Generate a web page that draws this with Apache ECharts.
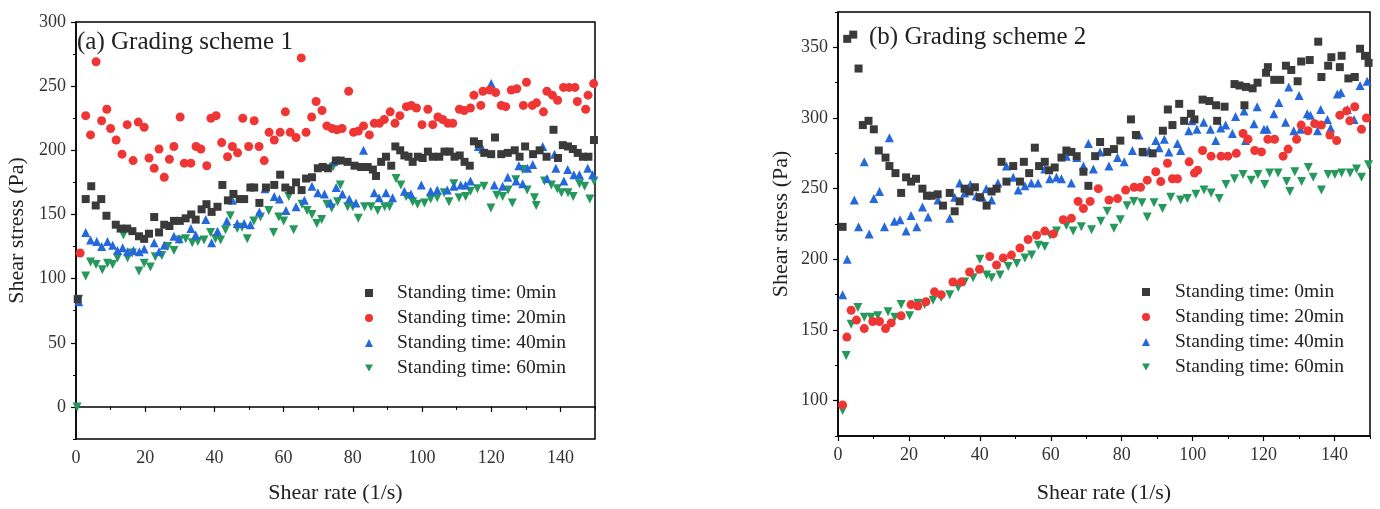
<!DOCTYPE html>
<html>
<head>
<meta charset="utf-8">
<script src="https://cdn.jsdelivr.net/npm/echarts@6/dist/echarts.min.js"></script>
<style>html,body{margin:0;padding:0;background:#fff;}#c{width:1380px;height:509px;}</style>
</head>
<body>
<div id="c"></div>
<script>
// ---- Data (shear rate [1/s], shear stress [Pa]) ----
const seriesNames = ['Standing time: 0min','Standing time: 20min','Standing time: 40min','Standing time: 60min'];
const panelTitles = ['(a) Grading scheme 1','(b) Grading scheme 2'];
const xMajorTicks = [0,20,40,60,80,100,120,140];
const xMinorTicks = [10,30,50,70,90,110,130,150];
const yMajorTicksA = [0,50,100,150,200,250,300];
const yMinorTicksA = [-25,25,75,125,175,225,275];
const yMajorTicksB = [100,150,200,250,300,350];
const yMinorTicksB = [75,125,175,225,275,325,375];

// Panel (a)
const a0min = [[0.5,84],[2.8,162],[4.4,172],[5.7,157],[7.3,162],[8.8,149],[11.5,142],[12.9,139],[14.8,139],[16.3,137],[18.2,133],[19.7,131],[21.1,135],[22.6,148],[24,136],[25.5,142],[27,141],[28.3,145],[30,145],[31.7,147],[33.3,150],[34.6,146],[36.3,154],[37.7,158],[39.2,152],[40.9,156],[42.3,173],[43.9,161],[45.5,166],[47.3,162],[48.6,162],[50.4,171],[51.5,171],[53,159],[54.9,171],[57.3,173],[59,181],[60.5,171],[62.1,169],[63.6,175],[65.2,169],[66.5,178],[68.2,179],[69.9,186],[71.3,187],[72.8,186],[75.1,192],[76.5,192],[78.5,191],[80.5,188],[82.4,187],[84.3,187],[85.8,185],[86.7,180],[88.2,191],[89.6,195],[91.1,188],[92.3,203],[93.7,200],[94.9,196],[96.1,195],[97.3,191],[98.8,195],[100.2,194],[101.7,199],[103.1,195],[105,195],[106.5,199],[108,199],[109.4,195],[110.9,196],[112.3,191],[113.8,188],[115,207],[116.4,205],[118,198],[120,197],[121.1,210],[122.9,197],[124.8,198],[126.8,200],[128.2,195],[129.8,203],[132.1,197],[134,200],[136,195],[138,216],[139.3,194],[140.7,204],[142.2,203],[143.6,201],[145,198],[146.5,195],[148.1,195],[149.7,208]];
const a20min = [[1.2,120],[2.8,227],[4.2,212],[5.8,269],[7.4,223],[8.9,232],[10,217],[11.6,208],[13.3,197],[14.8,220],[16.5,192],[18,222],[19.7,218],[21.1,194],[22.6,186],[24,201],[25.5,179],[27,193],[28.3,203],[30.1,226],[31.3,190],[33.2,190],[34.7,203],[36.1,201],[37.8,188],[39,225],[40.5,227],[42.1,206],[43.8,195],[45.2,203],[46.7,198],[48.2,225],[49.9,203],[51.5,223],[52.9,203],[54.4,192],[55.8,214],[57.3,208],[59,214],[60.5,230],[61.9,214],[63.6,210],[65.1,272],[66.5,214],[68.1,226],[69.4,238],[71.1,231],[72.5,219],[74,217],[75.4,216],[76.9,217],[78.8,246],[80.2,214],[81.6,215],[83.1,219],[84.8,212],[86.2,221],[87.7,221],[89.1,224],[90.8,230],[92.2,221],[93.6,227],[95.5,234],[96.9,235],[98.4,233],[100,220],[101.7,232],[103.1,220],[104.6,226],[106,224],[107.5,221],[108.9,221],[110.8,232],[112.2,231],[114,233],[115,243],[117,235],[117.6,246],[119.6,247],[121.3,245],[122.9,235],[124.2,234],[125.8,247],[127.4,248],[129.3,235],[130.2,253],[131.9,235],[133.1,237],[135.1,230],[136.1,246],[137.7,243],[139.2,239],[140.9,249],[142.5,249],[144.2,249],[144.9,238],[147.3,232],[148,243],[149.6,252]];
const a40min = [[0.8,82],[2.8,136],[4.2,130],[6,129],[7.4,125],[9.1,129],[10.6,126],[12,122],[13.5,124],[14.9,121],[16.6,122],[18.3,121],[19.7,123],[22.6,128],[24,121],[25.5,126],[28.3,133],[29.8,131],[33.2,139],[34.6,134],[37.5,146],[39.2,128],[40.9,137],[43.6,145],[45.2,161],[46.6,143],[48.6,143],[50.4,142],[53,152],[54.6,170],[57.3,164],[58.8,162],[60.7,153],[63.6,156],[66,161],[68.2,172],[69.9,167],[71.8,166],[73.6,159],[74.5,191],[75.2,171],[77,166],[79,162],[80.9,159],[83.1,200],[86.2,167],[87.6,163],[89.6,167],[91.5,163],[94.9,168],[96.8,166],[99.8,173],[102.5,168],[104.4,169],[107.3,169],[109.2,172],[111.2,173],[112.6,173],[114,176],[116.3,203],[117.5,201],[120,252],[120.9,173],[123.3,172],[124.8,179],[127.2,176],[128,188],[129.1,174],[130.5,186],[132,189],[134.9,203],[136.1,178],[138.3,197],[138.7,186],[141,176],[142.1,185],[143.9,181],[145.5,181],[147.9,186],[149.3,181]];
const a60min = [[0.3,0],[0.8,84],[2.8,102],[4.2,113],[5.8,111],[7.6,107],[9.1,112],[10.6,111],[12,116],[13.7,134],[14.9,116],[16.3,120],[18.2,106],[19.7,112],[21.5,109],[22.9,117],[24.8,118],[26.5,125],[28.3,122],[30,130],[31.7,131],[33.6,128],[35.2,129],[37,130],[38.9,136],[40.3,131],[41.8,130],[43.2,138],[44.6,149],[46.6,139],[48,140],[49.5,131],[51.4,145],[53.3,148],[55.7,153],[57.1,136],[58.6,148],[60,145],[61.5,164],[62.9,138],[65.3,158],[66.8,153],[68.2,150],[69.6,143],[71,146],[72.5,158],[73.9,155],[74.3,187],[75.6,160],[76.4,173],[78.5,156],[80,156],[81.6,147],[83.4,156],[85.3,156],[87.2,153],[89.2,156],[90.6,156],[92.5,178],[93.9,173],[95.4,164],[97.3,160],[98.7,158],[100.7,159],[102.5,162],[104.4,163],[106.4,167],[107.8,160],[109.2,174],[110.7,163],[112.6,164],[114,168],[116,170],[117.9,172],[119.9,155],[121.6,165],[123.3,164],[124.9,169],[126.1,159],[127.1,177],[129.1,185],[130.4,169],[132.5,163],[133,157],[135.4,176],[137.4,173],[139.1,170],[140.3,167],[142.2,167],[143.7,164],[145.5,174],[147,172],[148.5,162],[149.7,176]];

// Panel (b)
const b0min = [[1.3,223],[2.6,356],[4.3,359],[5.8,335],[7,295],[8.6,298],[10.1,292],[11.5,277],[13.4,272],[14.5,266],[16.2,261],[17.8,247],[19.2,258],[20.6,255],[22,257],[23.8,250],[25.1,245],[26.4,245],[28.1,246],[29.6,238],[31.5,247],[32.9,234],[34.3,241],[35.7,250],[37.1,248],[38.6,251],[40,244],[41.9,238],[43.3,248],[44.7,250],[46.1,269],[47.5,255],[49.4,266],[51.3,255],[52.4,269],[53.9,261],[55.5,279],[56.7,266],[58.3,269],[59.5,263],[61.1,265],[63,272],[64.4,277],[65.8,276],[67.3,273],[69.2,262],[70.6,252],[72.5,273],[73.9,283],[75.9,276],[77.8,278],[79.6,284],[82.6,299],[84,288],[85.9,276],[88.7,275],[91.6,291],[93,306],[94.3,295],[96.2,310],[97.6,298],[99.5,303],[100.5,299],[102.8,313],[104.7,312],[106.6,309],[106.9,298],[109,308],[111.8,324],[113.2,323],[114.6,309],[115,322],[116.9,321],[118.3,325],[120.7,332],[121.2,336],[123,327],[124.7,327],[126.3,337],[127.8,334],[129.6,326],[130.6,340],[133,341],[135.4,354],[136.3,329],[138.2,337],[139.1,343],[141.5,336],[142,344],[143.9,328],[145.7,329],[147.2,349],[148.6,344],[149.6,339]];
const b20min = [[1.3,97],[2.5,145],[3.7,164],[5.2,157],[7.4,151],[9.8,156],[11.7,156],[13.4,151],[15,155],[17.8,160],[20.6,168],[22.5,167],[24.8,170],[27.2,177],[29.1,175],[32.4,184],[34.8,184],[37.1,191],[39.9,193],[42.8,202],[44.7,196],[46.6,201],[48.9,203],[51.3,208],[53.6,214],[56,217],[58.3,220],[60.7,218],[63.5,228],[65.8,229],[67.7,241],[69.2,236],[71.1,241],[73.4,250],[76.4,242],[78.8,243],[81.1,249],[83.5,251],[85.3,251],[87.2,256],[89.6,262],[91,255],[92.9,268],[94.3,257],[95.7,257],[99,269],[100.5,261],[101.4,263],[102.8,277],[105.2,273],[108,273],[109.9,273],[112.3,275],[114.2,289],[115.6,285],[117.5,277],[119.4,276],[121.2,285],[123.1,285],[125.5,273],[126.9,278],[129.3,285],[130.6,295],[132.5,291],[134.4,296],[136.3,295],[138.7,288],[140.6,284],[141.5,302],[143.4,305],[144.3,298],[145.7,308],[147.6,292],[149,300]];
const b40min = [[1.3,175],[2.6,200],[4.6,242],[5.8,223],[7.4,269],[8.8,218],[10.1,243],[11.7,248],[13.1,223],[14.5,286],[15.9,227],[17.5,228],[19.2,220],[20.6,231],[22.2,223],[23.8,237],[25.4,230],[28.2,242],[31.5,229],[32.9,244],[34.3,254],[35.7,247],[37.3,253],[39,245],[40.7,244],[41.8,250],[43.3,242],[45.1,254],[47.5,266],[49.4,258],[50.8,249],[52.7,252],[54.5,254],[56.4,254],[58.3,264],[59.7,257],[61.6,258],[63,257],[64.4,273],[65.8,254],[67.3,272],[69.2,266],[70.6,282],[72,264],[73.9,276],[76.4,266],[78.8,272],[80.7,269],[83,277],[84.9,288],[86.3,276],[87.7,277],[89.6,284],[90.5,279],[92,285],[93.3,276],[95.7,282],[96.6,277],[98.9,291],[99.8,298],[101.2,292],[103.1,297],[105,292],[106.5,284],[107.9,293],[109.3,295],[111.2,289],[112.1,301],[114.5,305],[114.9,284],[117.3,296],[118.2,308],[120.1,292],[121,292],[122.9,303],[124.3,311],[126.2,297],[127.1,322],[128.5,291],[130,316],[130.4,292],[132.3,303],[133.2,302],[135.2,291],[136.1,306],[138,299],[138.9,293],[140.8,317],[141.8,318],[143.6,306],[145.5,299],[147.2,323],[149.2,326]];
const b60min = [[1.3,93],[2.3,132],[3.7,154],[5.6,166],[7.4,159],[9.3,159],[11.2,160],[14.1,163],[16,159],[17.8,168],[20.2,160],[22.5,169],[24.4,168],[26.8,171],[29.1,173],[31.5,175],[33.9,180],[35.7,184],[38.1,187],[40,200],[41.9,189],[43.3,187],[45.7,189],[48,195],[50.4,197],[52.7,201],[54.6,203],[56.5,210],[58.3,209],[59.8,217],[61.6,220],[64.4,224],[66.3,220],[68.6,223],[71.5,221],[74.1,227],[75.9,234],[77.8,222],[79.6,228],[81.5,238],[83.4,241],[85.7,240],[87.2,230],[89.1,240],[91.5,236],[93.8,244],[96.6,242],[98.5,243],[100.9,246],[103.2,249],[105.2,247],[107.5,243],[109.4,253],[111.8,257],[114.2,260],[116.5,256],[118.4,260],[120.3,253],[121.7,261],[124.1,261],[126.5,255],[127.4,248],[128.8,262],[130.7,255],[132.6,265],[134,258],[136.3,249],[138.2,260],[140.1,260],[142,261],[144.4,261],[146.2,264],[147.6,258],[149.6,267]];

const panelData = [[a0min,a20min,a40min,a60min],[b0min,b20min,b40min,b60min]];

// ---- Styling ----
const FONT = "'Liberation Serif','Times New Roman',serif";
const colors = ['#3a3a3a','#f03535','#2468dc','#25985c'];
const symbols = ['rect','circle','triangle','triangle'];
const rotates = [0,0,0,180];
const sizes = [8,9,9,9];
const legendIcons = ['rect','circle','triangle','path://M0,0 L10,0 L5,9 Z'];

const grids = [
  {left:76, top:22, width:519, height:419},
  {left:838, top:12, width:532, height:427}
];
const yRanges = [[-25,300],[75,375]];
const yMajor = [yMajorTicksA, yMajorTicksB];
const yMinor = [yMinorTicksA, yMinorTicksB];

const axisLineStyle = {color:'#000', width:1.5};
const xAxes = [], yAxes = [], series = [];
grids.forEach((g,i)=>{
  xAxes.push({type:'value', gridIndex:i, min:0, max:150, name:'Shear rate (1/s)', nameLocation:'middle', nameGap:i===0?43:46,
    nameTextStyle:{fontFamily:FONT, fontSize:22, color:'#222'},
    axisLine:{lineStyle:axisLineStyle}, splitLine:{show:false},
    axisTick:{inside:false, length:5, lineStyle:{color:'#000', width:1.2}, customValues:xMajorTicks},
    axisLabel:{fontFamily:FONT, fontSize:18, color:'#333', margin:10, customValues:xMajorTicks}});
  xAxes.push({type:'value', gridIndex:i, min:0, max:150, position:'bottom', axisLine:{show:false}, splitLine:{show:false},
    axisTick:{length:3, lineStyle:{color:'#000', width:1}, customValues:xMinorTicks}, axisLabel:{show:false}});
  yAxes.push({type:'value', gridIndex:i, min:yRanges[i][0], max:yRanges[i][1], name:'Shear stress (Pa)', nameLocation:'middle', nameGap:i===0?48:46,
    nameTextStyle:{fontFamily:FONT, fontSize:22, color:'#222'},
    axisLine:{lineStyle:axisLineStyle}, splitLine:{show:false},
    axisTick:{inside:false, length:5, lineStyle:{color:'#000', width:1.2}, customValues:yMajor[i]},
    axisLabel:{fontFamily:FONT, fontSize:18, color:'#333', margin:10, customValues:yMajor[i]}});
  yAxes.push({type:'value', gridIndex:i, min:yRanges[i][0], max:yRanges[i][1], position:'left', axisLine:{show:false}, splitLine:{show:false},
    axisTick:{length:3, lineStyle:{color:'#000', width:1}, customValues:yMinor[i]}, axisLabel:{show:false}});
  panelData[i].forEach((d,k)=>{
    series.push({type:'scatter', name:seriesNames[k], xAxisIndex:2*i, yAxisIndex:2*i, data:d,
      symbol:symbols[k], symbolSize:sizes[k], symbolRotate:rotates[k],
      itemStyle:{color:colors[k], opacity:1}, z:10-k, emphasis:{disabled:true}});
  });
});

const legendData = seriesNames.map((n,k)=>({name:n, icon:legendIcons[k]}));

const option = {
  animation:false,
  backgroundColor:'#fff',
  title: [
    {text:panelTitles[0], left:77, top:30, padding:0, textStyle:{fontFamily:FONT, fontSize:25, fontWeight:'normal', color:'#222'}},
    {text:panelTitles[1], left:869, top:25, padding:0, textStyle:{fontFamily:FONT, fontSize:25, fontWeight:'normal', color:'#222'}}
  ],
  grid: grids.map(g=>Object.assign({show:true, borderColor:'#000', borderWidth:1.5, containLabel:false}, g)),
  xAxis: xAxes,
  yAxis: yAxes,
  legend: [
    {data:legendData, orient:'vertical', left:365, top:283, itemWidth:8, itemHeight:8, itemGap:5, padding:0,
     selectedMode:false, textStyle:{fontFamily:FONT, fontSize:19.5, lineHeight:20, color:'#222', padding:[0,0,0,19]}},
    {data:legendData, orient:'vertical', left:1142, top:282, itemWidth:8, itemHeight:8, itemGap:5, padding:0,
     selectedMode:false, textStyle:{fontFamily:FONT, fontSize:19.5, lineHeight:20, color:'#222', padding:[0,0,0,20]}}
  ],
  series: series
};
const chart = echarts.init(document.getElementById('c'), null, {renderer:'canvas'});
chart.setOption(option);
</script>
</body>
</html>
